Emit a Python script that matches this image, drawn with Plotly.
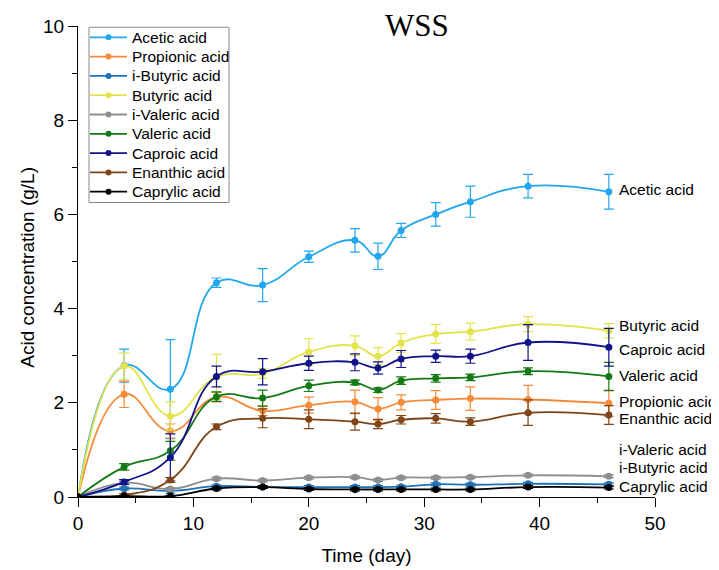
import plotly.graph_objects as go

days = [0, 4, 8, 12, 16, 20, 24, 26, 28, 31, 34, 39, 46]

names = ["Acetic acid", "Propionic acid", "i-Butyric acid", "Butyric acid", "i-Valeric acid",
         "Valeric acid", "Caproic acid", "Enanthic acid", "Caprylic acid"]
colors = ["#22A7EE", "#F58A3A", "#1E72B8", "#E3E34A", "#8E8E8E",
          "#157A15", "#12128A", "#7E4518", "#000000"]

acetic = [0, 2.79, 2.29, 4.55, 4.50, 5.10, 5.45, 5.11, 5.66, 6.00, 6.27, 6.60, 6.48]
acetic_err = [0, 0.35, 1.05, 0.10, 0.35, 0.12, 0.25, 0.28, 0.15, 0.25, 0.33, 0.25, 0.37]
propionic = [0, 2.18, 1.40, 2.12, 1.83, 1.95, 2.02, 1.87, 2.01, 2.06, 2.09, 2.07, 1.99]
propionic_err = [0, 0.28, 0.15, 0.10, 0.10, 0.17, 0.25, 0.24, 0.16, 0.20, 0.25, 0.30, 0.28]
ibutyric = [0, 0.18, 0.13, 0.23, 0.21, 0.21, 0.21, 0.21, 0.22, 0.27, 0.26, 0.28, 0.27]
ibutyric_err = [0, 0.03, 0.05, 0.03, 0.03, 0.03, 0.03, 0.03, 0.03, 0.03, 0.03, 0.03, 0.03]
butyric = [0, 2.78, 1.72, 2.55, 2.62, 3.08, 3.21, 2.99, 3.27, 3.46, 3.51, 3.67, 3.53]
butyric_err = [0, 0.28, 0.30, 0.48, 0.10, 0.28, 0.21, 0.18, 0.20, 0.20, 0.18, 0.16, 0.15]
ivaleric = [0, 0.30, 0.17, 0.39, 0.35, 0.41, 0.42, 0.36, 0.41, 0.41, 0.42, 0.46, 0.44]
ivaleric_err = [0, 0.03, 0.03, 0.03, 0.03, 0.03, 0.03, 0.03, 0.03, 0.03, 0.03, 0.03, 0.03]
valeric = [0, 0.64, 0.98, 2.13, 2.10, 2.36, 2.43, 2.27, 2.47, 2.52, 2.54, 2.67, 2.56]
valeric_err = [0, 0.07, 0.20, 0.10, 0.17, 0.12, 0.05, 0.05, 0.08, 0.08, 0.07, 0.07, 0.30]
caproic = [0, 0.32, 0.84, 2.56, 2.66, 2.84, 2.86, 2.74, 2.93, 2.99, 2.99, 3.28, 3.18]
caproic_err = [0, 0.05, 0.50, 0.22, 0.28, 0.15, 0.18, 0.13, 0.18, 0.13, 0.15, 0.38, 0.40]
enanthic = [0, 0.04, 0.36, 1.49, 1.67, 1.65, 1.60, 1.55, 1.64, 1.67, 1.60, 1.79, 1.74]
enanthic_err = [0, 0.03, 0.05, 0.06, 0.20, 0.20, 0.18, 0.10, 0.09, 0.10, 0.08, 0.27, 0.20]
caprylic = [0, 0.02, 0.02, 0.18, 0.21, 0.17, 0.16, 0.16, 0.16, 0.16, 0.16, 0.21, 0.20]
caprylic_err = [0, 0.01, 0.01, 0.03, 0.03, 0.03, 0.03, 0.03, 0.03, 0.03, 0.03, 0.03, 0.03]

series = [acetic, propionic, ibutyric, butyric, ivaleric, valeric, caproic, enanthic, caprylic]
errors = [acetic_err, propionic_err, ibutyric_err, butyric_err, ivaleric_err,
          valeric_err, caproic_err, enanthic_err, caprylic_err]

label_names = ["Acetic acid", "Butyric acid", "Caproic acid", "Valeric acid", "Propionic acid",
               "Enanthic acid", "i-Valeric acid", "i-Butyric acid", "Caprylic acid"]
label_y = [6.53, 3.64, 3.13, 2.57, 2.02, 1.66, 1.0, 0.62, 0.23]

FONT = "Liberation Sans, Arial"

fig = go.Figure()
for name, col, ys, es in zip(names, colors, series, errors):
    fig.add_trace(go.Scatter(
        x=days, y=ys, name=name, mode="lines+markers", showlegend=False,
        line=dict(color=col, width=1.8, shape="spline", smoothing=1.3),
        marker=dict(color=col, size=7),
        error_y=dict(type="data", array=es, visible=True, color=col, thickness=1.2, width=5),
    ))

annotations = [dict(x=46.7, y=yv, text=t, xref="x", yref="y", xanchor="left", yanchor="middle",
                    showarrow=False, font=dict(family=FONT, size=15.5, color="#000"))
               for t, yv in zip(label_names, label_y)]
annotations.append(dict(x=0.5875, y=1.002, xref="paper", yref="paper", text="WSS", showarrow=False,
                        xanchor="center", yanchor="middle",
                        font=dict(family="Liberation Serif, Times New Roman", size=31, color="#000")))
annotations.append(dict(x=-0.0875, y=0.488, xref="paper", yref="paper", text="Acid concentration (g/L)",
                        showarrow=False, textangle=-90, xanchor="center", yanchor="middle",
                        font=dict(family=FONT, size=19, color="#000")))

# custom legend (box, sample line, marker dot, text) in paper coordinates
PW, PH = 577.0, 471.0
leg_left, leg_right, leg_top, leg_bottom = 11, 151, 1.3, 176.5   # px offsets from plot top-left
shapes = [dict(type="rect", xref="paper", yref="paper",
               x0=leg_left / PW, x1=leg_right / PW, y0=1 - leg_top / PH, y1=1 - leg_bottom / PH,
               line=dict(color="#8a8a8a", width=1), fillcolor="white", layer="above")]
for i, (name, col) in enumerate(zip(names, colors)):
    yc = 1 - (11.3 + 19.3 * i) / PH
    shapes.append(dict(type="line", xref="paper", yref="paper", x0=12 / PW, x1=49 / PW, y0=yc, y1=yc,
                       line=dict(color=col, width=1.8), layer="above"))
    shapes.append(dict(type="circle", xref="paper", yref="paper", xsizemode="pixel", ysizemode="pixel",
                       xanchor=30.5 / PW, yanchor=yc, x0=-3, x1=3, y0=-3, y1=3,
                       fillcolor=col, line=dict(color=col, width=0), layer="above"))
    annotations.append(dict(x=52 / PW, y=yc, xref="paper", yref="paper", text=name, showarrow=False,
                            xanchor="left", yanchor="middle", font=dict(family=FONT, size=15.5, color="#000")))

fig.update_layout(
    width=719, height=570,
    margin=dict(l=70, r=72, t=18, b=81),
    paper_bgcolor="white", plot_bgcolor="white",
    font=dict(family=FONT, size=15, color="#000"),
    showlegend=False,
    annotations=annotations,
    shapes=shapes,
    xaxis=dict(range=[0, 50], dtick=10, tick0=0, showgrid=False, zeroline=False, automargin=False,
               showline=True, linecolor="black", linewidth=1.2,
               ticks="outside", ticklen=9, tickcolor="black", tickwidth=1.2,
               minor=dict(dtick=5, ticks="outside", ticklen=5, tickcolor="black"),
               tickfont=dict(size=19), title=dict(text="Time (day)", font=dict(size=19))),
    yaxis=dict(range=[0, 10], dtick=2, tick0=0, showgrid=False, zeroline=False, automargin=False,
               showline=True, linecolor="black", linewidth=1.2,
               ticks="outside", ticklen=9, tickcolor="black", tickwidth=1.2,
               minor=dict(dtick=1, ticks="outside", ticklen=5, tickcolor="black"),
               tickfont=dict(size=19)),
)

fig.write_html("out.html")
